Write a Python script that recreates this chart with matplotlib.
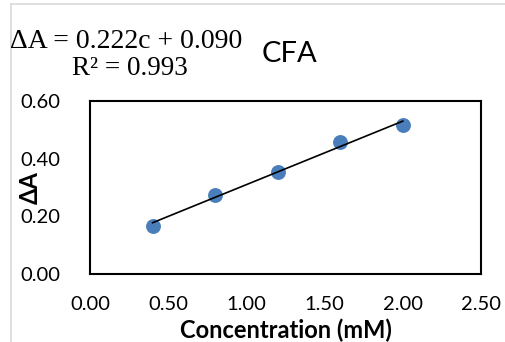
import numpy as np
import matplotlib
matplotlib.use('Agg')
import matplotlib.pyplot as plt
from matplotlib.lines import Line2D

# data
conc = [0.40, 0.80, 1.20, 1.60, 2.00]
dA = [0.168, 0.274, 0.354, 0.457, 0.517]
xticks = [0.0, 0.5, 1.0, 1.5, 2.0, 2.5]
yticks = [0.0, 0.2, 0.4, 0.6]

plt.rcParams['font.family'] = ['Lato', 'DejaVu Sans']

fig = plt.figure(figsize=(5.06, 3.42), dpi=100)
W, H = 506, 342
ax = fig.add_axes([90 / W, 1 - 274 / H, (481 - 90) / W, (274 - 101) / H])

ax.scatter(conc, dA, s=115, color='#4a7ebb', zorder=3, linewidths=0)

# linear trendline
k, b = np.polyfit(conc, dA, 1)
xl = np.array([conc[0], conc[-1]])
ax.plot(xl, k * xl + b, color='black', lw=1.2, zorder=4)

ax.set_xlim(0, 2.5)
ax.set_ylim(0, 0.6)
ax.set_xticks(xticks)
ax.set_yticks(yticks)
ax.set_xticklabels(['%.2f' % v for v in xticks])
ax.set_yticklabels(['%.2f' % v for v in yticks])
ax.tick_params(length=0, labelsize=14.5, colors='black')
ax.tick_params(axis='x', pad=16)
ax.tick_params(axis='y', pad=21)
for s in ax.spines.values():
    s.set_linewidth(1.5)
    s.set_color('black')

ax.set_xlabel('Concentration (mM)', fontsize=17, fontweight='bold')
ax.xaxis.set_label_coords(0.5, -45 / 173)
ax.set_ylabel('ΔA', fontsize=17, fontweight='bold')
ax.yaxis.set_label_coords(-48 / 391, 0.5)

# equation and title
fig.text(10 / W, 1 - 48 / H, 'ΔA = 0.222c + 0.090', family='Liberation Serif',
         fontsize=20, ha='left', va='baseline')
fig.text(130 / W, 1 - 75 / H, 'R² = 0.993', family='Liberation Serif',
         fontsize=19.5, ha='center', va='baseline')
fig.text(262 / W, 1 - 62 / H, 'CFA', fontsize=21, ha='left', va='baseline')

# chart area border (partially visible)
fig.add_artist(Line2D([11 / W, 11 / W], [0, 1 - 4 / H], transform=fig.transFigure,
                      color='#d9d9d9', lw=1.2))
fig.add_artist(Line2D([11 / W, 1], [1 - 4 / H, 1 - 4 / H], transform=fig.transFigure,
                      color='#d9d9d9', lw=1.2))

fig.savefig('out.png', dpi=100)
